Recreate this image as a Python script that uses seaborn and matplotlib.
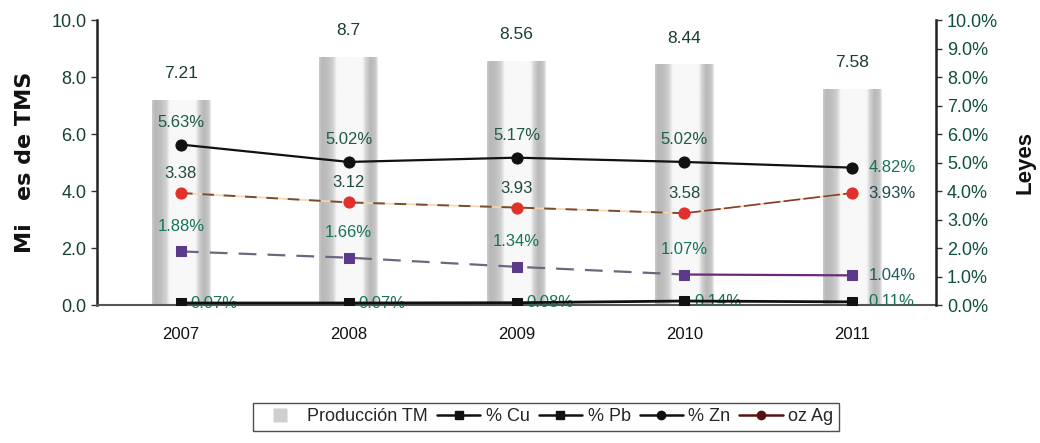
import numpy as np
import pandas as pd
import matplotlib
matplotlib.use("Agg")
import matplotlib.pyplot as plt
import seaborn as sns
from matplotlib.lines import Line2D

# ---------------- data ----------------
years = ["2007", "2008", "2009", "2010", "2011"]
produccion = [7.21, 8.7, 8.56, 8.44, 7.58]
zn = [5.63, 5.02, 5.17, 5.02, 4.82]
pb = [1.88, 1.66, 1.34, 1.07, 1.04]
cu = [0.07, 0.07, 0.08, 0.14, 0.11]
ag = [3.93, 3.60, 3.42, 3.22, 3.93]          # plotted positions
ag_labels = ["3.38", "3.12", "3.93", "3.58", "3.93%"]
left_ticks = [0, 2, 4, 6, 8, 10]
right_ticks = [0, 1, 2, 3, 4, 5, 6, 7, 8, 9, 10]

sns.set_theme(style="white")
plt.rcParams["font.family"] = ["Liberation Sans", "DejaVu Sans"]

fig = plt.figure(figsize=(10.4, 4.43), dpi=100)
ax = fig.add_axes([0.0933, 0.3115, 0.8067, 0.6433])

df = pd.DataFrame({"year": years, "prod": produccion})
sns.barplot(data=df, x="year", y="prod", ax=ax, width=0.35, color="#d0d0d0",
            saturation=1, edgecolor="none", zorder=1)

# cylinder-like gradient fill on each bar
pos = [0, 0.05, 0.15, 0.24, 0.30, 0.74, 0.80, 0.88, 0.96, 1.0]
val = [0.80, 0.72, 0.75, 0.82, 0.97, 0.97, 0.82, 0.72, 0.78, 0.92]
xs = np.linspace(0, 1, 200)
grad = np.interp(xs, pos, val)[None, :]
for p in list(ax.patches):
    x0, w, h = p.get_x(), p.get_width(), p.get_height()
    im = ax.imshow(grad, extent=[x0, x0 + w, 0, h], aspect="auto", cmap="gray",
                   vmin=0, vmax=1, zorder=1.5, interpolation="bilinear")
    im.set_clip_path(p)

ax.set_xlim(-0.5, 4.5)
ax.set_ylim(0, 10)
ax.set_yticks(left_ticks)
ax.set_yticklabels([f"{t:.1f}" for t in left_ticks], color="#173f35", fontsize=13)
ax.set_xticks(range(len(years)))
ax.set_xticklabels(years, fontsize=12, color="#111111")
ax.set_xticks(np.arange(-0.5, 5.0, 1.0), minor=True)
ax.tick_params(axis="x", which="major", length=0, pad=16)
ax.tick_params(axis="x", which="minor", length=5, width=1, color="#333333", direction="out")
ax.tick_params(axis="y", length=4, width=1, color="#333333", direction="out", left=True)
ax.set_xlabel("")
ax.set_ylabel("Mi   es de TMS", fontsize=16, fontweight="bold", color="#111111",
              labelpad=12, family="DejaVu Sans")
for s in ["top", "right"]:
    ax.spines[s].set_visible(False)
ax.spines["left"].set_color("#222222")
ax.spines["left"].set_linewidth(1.8)
ax.spines["bottom"].set_color("#555555")
ax.spines["bottom"].set_linewidth(1.5)

for i, v in enumerate(produccion):
    ax.annotate(f"{v:g}", (i, v), xytext=(0, 19), textcoords="offset points",
                ha="center", va="center", fontsize=12.5, color="#1c3d34")

# ---------------- lines on secondary axis ----------------
ax2 = ax.twinx()
idx = np.arange(len(years))
ax2.set_ylim(0, 10)
ax2.set_xlim(-0.5, 4.5)

# Zn
sns.lineplot(x=idx, y=zn, ax=ax2, color="#111111", lw=1.6, marker="o",
             markersize=8, markeredgecolor="#111111", zorder=5)
# Ag: light base line + dashed brown, last segment solid
sns.lineplot(x=idx, y=ag, ax=ax2, color="#f3d9a8", lw=1.2, zorder=4)
sns.lineplot(x=idx[:4], y=ag[:4], ax=ax2, color="#7a4a35", lw=1.4, zorder=4.2,
             linestyle=(0, (6, 5)))
sns.lineplot(x=idx[3:], y=ag[3:], ax=ax2, color="#8a3a30", lw=1.2, zorder=4.2,
             linestyle=(0, (10, 2)))
sns.lineplot(x=idx, y=ag, ax=ax2, color="#e2302a", lw=0, marker="o",
             markersize=8, markeredgecolor="#e2302a", zorder=6)
# Pb
sns.lineplot(x=idx[:4], y=pb[:4], ax=ax2, color="#6f6580", lw=1.6, zorder=4,
             linestyle=(0, (8, 5)))
sns.lineplot(x=idx[3:], y=pb[3:], ax=ax2, color="#6a2a7a", lw=1.6, zorder=4)
sns.lineplot(x=idx, y=pb, ax=ax2, color="#5b3a8c", lw=0, marker="s",
             markersize=7, markeredgecolor="#5b3a8c", zorder=6)
# Cu
sns.lineplot(x=idx, y=cu, ax=ax2, color="#111111", lw=2.0, marker="s",
             markersize=7, markeredgecolor="#111111", zorder=6)

lab_col = "#17735c"
last = len(years) - 1
for i in idx:
    if i < last:
        ax2.annotate(f"{zn[i]:.2f}%", (i, zn[i]), xytext=(0, 16), textcoords="offset points",
                     ha="center", va="center", fontsize=12, color="#1d5a4a")
        ax2.annotate(ag_labels[i], (i, ag[i]), xytext=(0, 14), textcoords="offset points",
                     ha="center", va="center", fontsize=12, color="#1f4a42")
        ax2.annotate(f"{pb[i]:.2f}%", (i, pb[i]), xytext=(0, 18), textcoords="offset points",
                     ha="center", va="center", fontsize=12, color=lab_col)
    else:
        ax2.annotate(f"{zn[i]:.2f}%", (i, zn[i]), xytext=(12, 0), textcoords="offset points",
                     ha="left", va="center", fontsize=12, color=lab_col)
        ax2.annotate(ag_labels[i], (i, ag[i]), xytext=(12, 0), textcoords="offset points",
                     ha="left", va="center", fontsize=12, color="#1f4a52")
        ax2.annotate(f"{pb[i]:.2f}%", (i, pb[i]), xytext=(12, 0), textcoords="offset points",
                     ha="left", va="center", fontsize=12, color="#1f5a62")
    ax2.annotate(f"{cu[i]:.2f}%", (i, cu[i]), xytext=(7 if i < last else 12, 0),
                 textcoords="offset points", ha="left", va="center", fontsize=12,
                 color=lab_col)

ax2.set_yticks(right_ticks)
ax2.set_yticklabels([f"{t:.1f}%" for t in right_ticks], color="#0f4f40", fontsize=13)
ax2.tick_params(axis="y", length=4, width=1, color="#333333", direction="out", right=True, pad=4)
ax2.set_ylabel("Leyes", fontsize=16, fontweight="bold", color="#111111", labelpad=12)
for s in ["top", "left", "bottom"]:
    ax2.spines[s].set_visible(False)
ax2.spines["right"].set_color("#222222")
ax2.spines["right"].set_linewidth(1.8)
ax2.grid(False)
ax.grid(False)

# ---------------- legend ----------------
handles = [
    Line2D([], [], color="none", marker="s", markersize=10,
           markerfacecolor="#cfcfcf", markeredgecolor="none"),
    Line2D([], [], color="#111111", lw=1.8, marker="s", markersize=6),
    Line2D([], [], color="#111111", lw=1.8, marker="s", markersize=6),
    Line2D([], [], color="#111111", lw=1.8, marker="o", markersize=6),
    Line2D([], [], color="#5a1010", lw=1.8, marker="o", markersize=6),
]
labels = ["Producción TM", "% Cu", "% Pb", "% Zn", "oz Ag"]
leg = fig.legend(handles, labels, loc="center", bbox_to_anchor=(0.525, 0.059), ncol=5,
                 frameon=True, fancybox=False, edgecolor="#222222", fontsize=13,
                 handlelength=2.4, handletextpad=0.3, columnspacing=0.5,
                 borderpad=0.3)
leg.get_frame().set_linewidth(1.0)

fig.savefig("out.png", dpi=100)
